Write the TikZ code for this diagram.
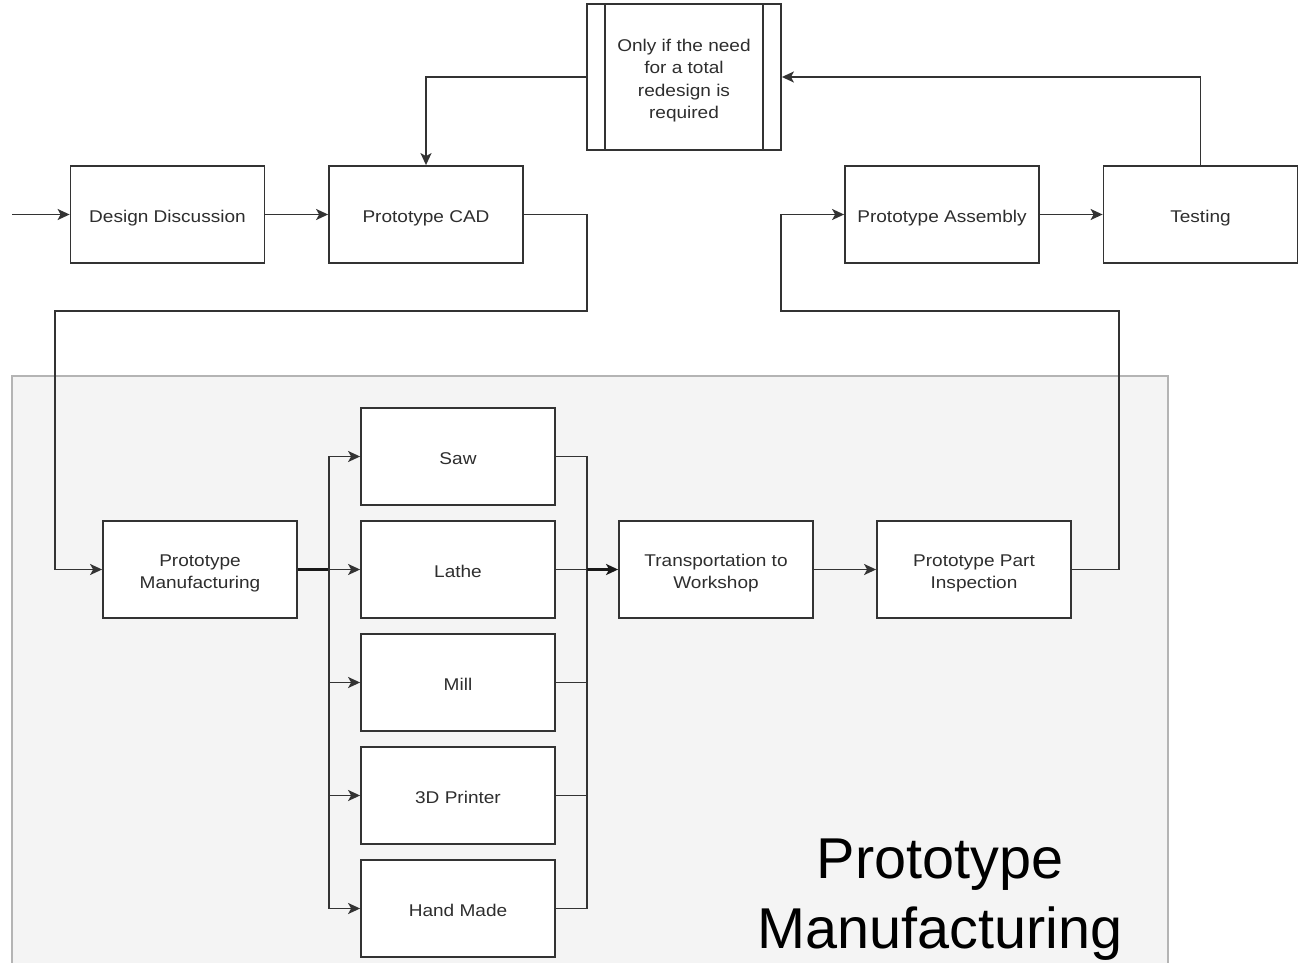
\documentclass[tikz,border=0pt]{standalone}
\usepackage{fontspec}
\setmainfont{Liberation Sans}
\newfontfamily\boxfont[FakeStretch=1.12]{Liberation Sans}
\usetikzlibrary{arrows.meta}
\definecolor{ln}{HTML}{333333}
\definecolor{tx}{HTML}{2E2E2E}
\definecolor{area}{HTML}{F4F4F4}
\definecolor{areaborder}{HTML}{B4B4B4}
\newcommand{\bxt}[1]{\raisebox{-3.5pt}[\height][\depth]{\begin{tabular}{@{}c@{}}#1\end{tabular}}}
\begin{document}
\begin{tikzpicture}[x=1pt,y=-1pt,
  box/.style={draw=ln, line width=1.8pt, fill=white, minimum width=194pt, minimum height=97pt,
    inner sep=0pt, text=tx, font=\boxfont\fontsize{17}{22.5}\selectfont},
  conn/.style={draw=ln, line width=1.7pt, -{Stealth[length=12pt,width=11pt,inset=3pt]}},
  plain/.style={draw=ln, line width=1.7pt},
  trunk/.style={line width=2.6pt, draw=black!90}]
\useasboundingbox (0,0) rectangle (1303,963);
\clip (0,0) rectangle (1303,963);
\fill[white] (0,0) rectangle (1303,963);
\draw[fill=area, draw=areaborder, line width=1.5pt] (12,376) rectangle (1168,990);
% big label
\node[anchor=north, inner sep=0pt, align=center, text=black, font=\fontsize{57.6}{70}\selectfont] (title) at (940,839) {Prototype\\Manufacturing};
% nodes
\node[box] (dd) at (167.5,214.5) {\bxt{Design Discussion}};
\node[box] (cad) at (426,214.5) {\bxt{Prototype CAD}};
\node[box, minimum height=146pt] (rd) at (684,77) {\bxt{Only if the need\\for a total\\redesign is\\required}};
\draw[ln, line width=1.8pt] ([xshift=19pt]rd.north west) -- ([xshift=19pt]rd.south west);
\draw[ln, line width=1.8pt] ([xshift=-19pt]rd.north east) -- ([xshift=-19pt]rd.south east);
\node[box] (asm) at (942,214.5) {\bxt{Prototype Assembly}};
\node[box] (test) at (1200.5,214.5) {\bxt{Testing}};
\node[box] (pm) at (200,569.5) {\bxt{Prototype\\Manufacturing}};
\node[box] (saw) at (458,456.5) {\bxt{Saw}};
\node[box] (lathe) at (458,569.5) {\bxt{Lathe}};
\node[box] (mill) at (458,682.5) {\bxt{Mill}};
\node[box] (printer) at (458,795.5) {\bxt{3D Printer}};
\node[box] (hand) at (458,908.5) {\bxt{Hand Made}};
\node[box] (tr) at (716,569.5) {\bxt{Transportation to\\Workshop}};
\node[box] (insp) at (974,569.5) {\bxt{Prototype Part\\Inspection}};
% bend coordinates
\coordinate (in) at (12,214.5);
\coordinate (b1) at (587,311);
\coordinate (b2) at (55,311);
\coordinate (b3) at (1119,311);
\coordinate (b4) at (781,311);
\coordinate (busL) at (329,569.5);
\coordinate (busR) at (587,569.5);
% connectors
\draw[conn] (in) -- (dd);
\draw[conn] (dd) -- (cad);
\draw[conn] (cad.east) -| (b1) -- (b2) |- (pm.west);
\draw[plain, trunk] (pm.east) -- (busL);
\foreach \m in {saw,lathe,mill,printer,hand}{
  \draw[conn] (busL) |- (\m.west);
  \draw[plain] (\m.east) -| (busR);
}
\draw[conn, trunk] (busR) -- (tr.west);
\draw[conn] (tr) -- (insp);
\draw[conn] (insp.east) -| (b3) -- (b4) |- (asm.west);
\draw[conn] (asm) -- (test);
\draw[conn] (test.north) |- (rd.east);
\draw[conn] (rd.west) -| (cad.north);
\end{tikzpicture}
\end{document}
